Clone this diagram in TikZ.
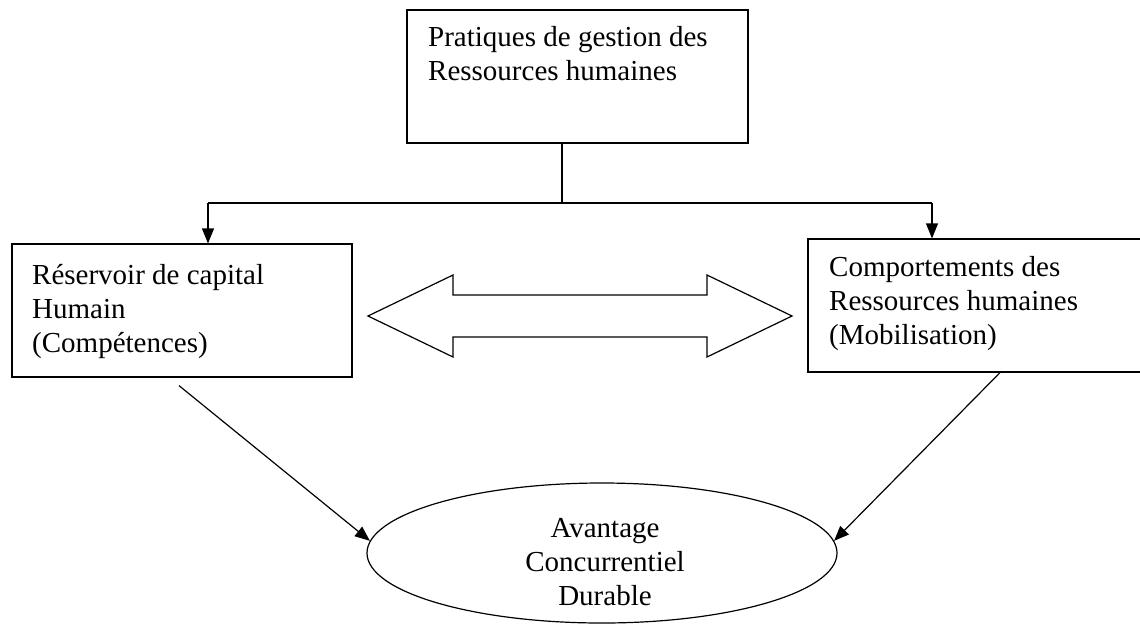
\documentclass[tikz,border=0pt]{standalone}
\usepackage{fontspec}
\setmainfont{Liberation Serif}
\usepackage{tikz}
\usetikzlibrary{shapes.geometric,arrows.meta,positioning}

\begin{document}
\begin{tikzpicture}[
  x=1pt, y=-1pt,
  every node/.style={font=\fontsize{29}{34}\selectfont},
  boite/.style={draw, rectangle, line width=1.2pt, inner sep=0pt},
  texte/.style={inner sep=0pt, align=left, anchor=base west},
  trait/.style={line width=1.2pt},
  fleche/.style={line width=1.2pt, -{Triangle[length=15pt,width=12pt]}}
]
\useasboundingbox[fill=white] (0,0) rectangle (1140,633);

\node[boite, minimum width=341pt, minimum height=133pt] (pratiques) at (577.5,76.5) {};
\node[texte] (pratiquestxt) at (428,80) {Pratiques de gestion des\\Ressources humaines};

\node[boite, minimum width=340pt, minimum height=133pt] (reservoir) at (182,310.5) {};
\node[texte] (reservoirtxt) at (32,352) {Réservoir de capital\\Humain\\(Compétences)};

\node[boite, minimum width=334pt, minimum height=133pt] (comportements) at (975,305.5) {};
\node[texte] (comportementstxt) at (829,344) {Comportements des\\Ressources humaines\\(Mobilisation)};

\node[ellipse, draw, line width=1.2pt, minimum width=470pt, minimum height=140pt] (avantage) at (602,553) {};
\node[align=center, inner sep=0pt, anchor=base] (avantagetxt) at (605,605) {Avantage\\Concurrentiel\\Durable};

\coordinate (split) at (562,203);
\coordinate (gaucheT) at (208,203);
\coordinate (droiteT) at (932,203);

\draw[trait] (pratiques.south -| split) -- (split);
\draw[trait] (gaucheT) -- (droiteT);
\draw[fleche] (gaucheT) -- (gaucheT |- reservoir.north);
\draw[fleche] (droiteT) -- (droiteT |- comportements.north);

\draw[trait, line join=miter] (368,316) -- (453,275) -- (453,295) -- (707,295) -- (707,275)
  -- (792,316) -- (707,357) -- (707,337) -- (453,337) -- (453,357) -- cycle;

\draw[fleche] ([shift={(-3,8)}]reservoir.south) -- (avantage.177);
\draw[fleche] (comportements.south -| 1000,0) -- (avantage.3);
\end{tikzpicture}
\end{document}
